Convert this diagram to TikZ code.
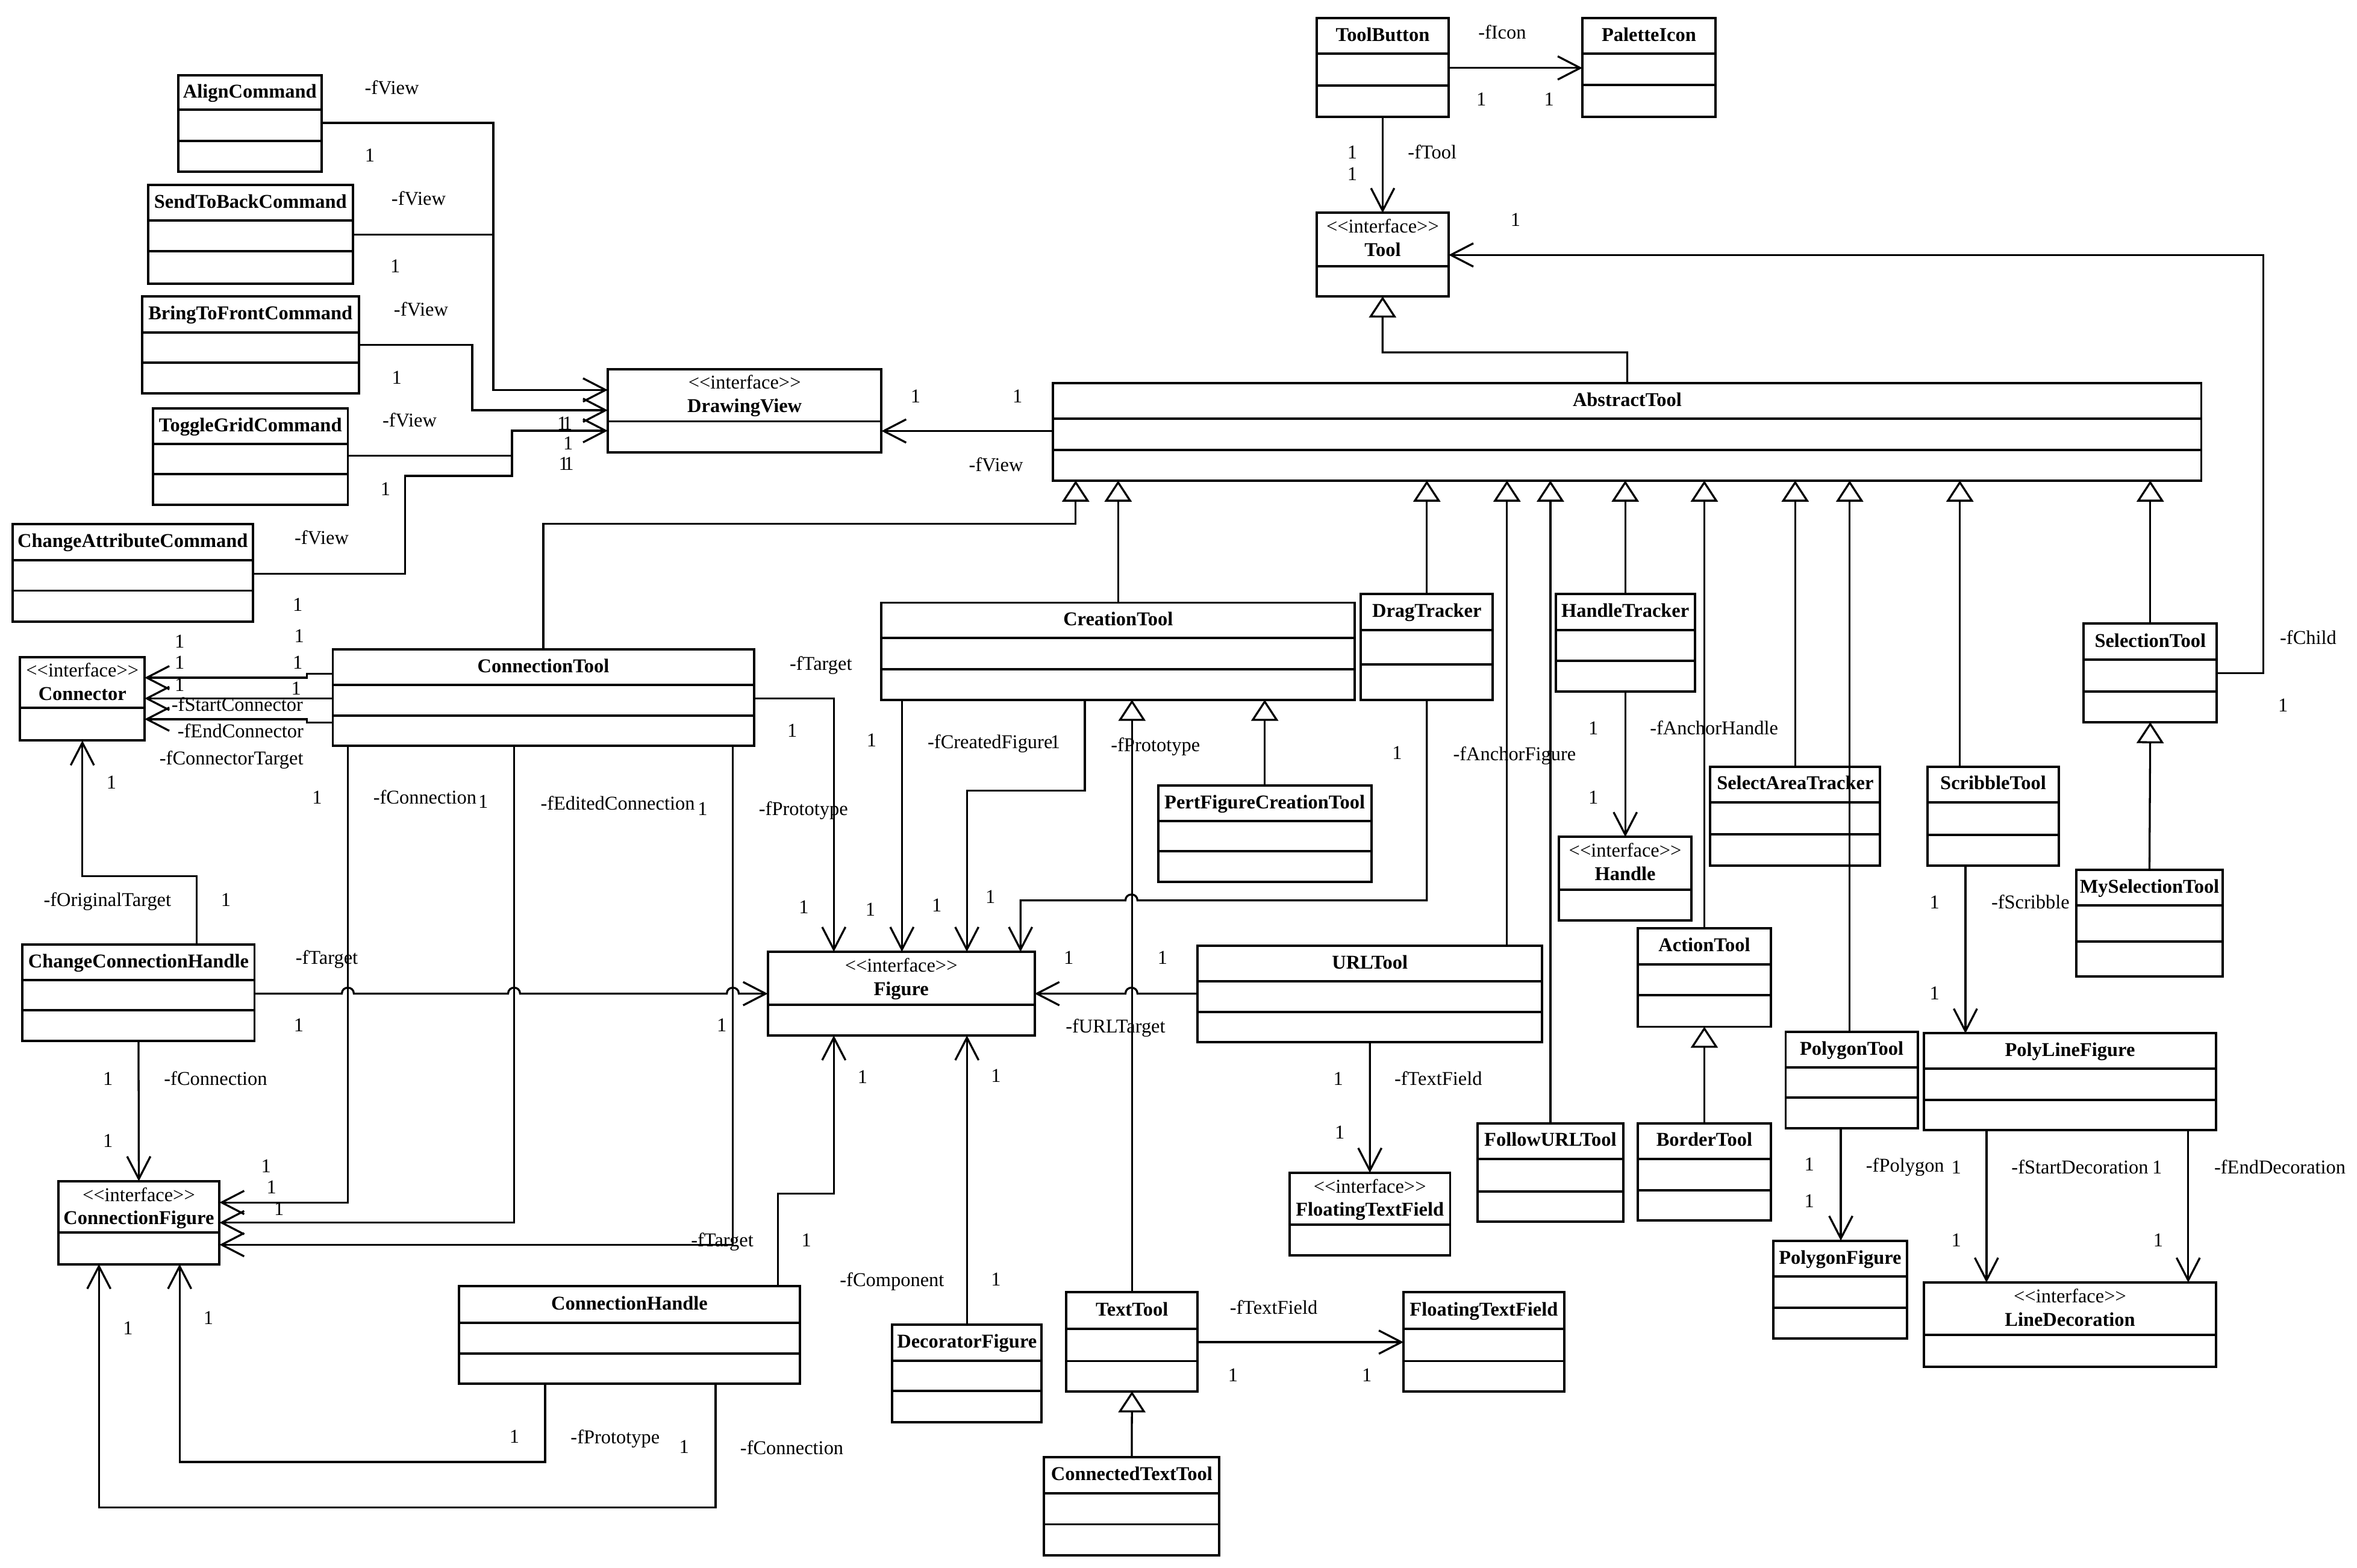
\documentclass[tikz,border=0pt]{standalone}
\usepackage{fontspec}
\setmainfont{Liberation Serif}
\usetikzlibrary{arrows.meta}
\newcommand{\tam}{\fontsize{7.4}{8.8}\selectfont}
% caja de clase: nombre, x1, y1, x2, y2, division 1, division 2, texto
\newcommand{\umlclase}[8]{%
  \node[caja,minimum width={(#4-#2)*0.2mm},minimum height={(#5-#3)*0.2mm}] (#1) at ({(#2+#4)/2},{(#3+#5)/2}) {};
  \draw[borde] (#2,#6) -- (#4,#6) (#2,#7) -- (#4,#7);
  \node[nombre] (#1-n) at ({(#2+#4)/2},{(#3+#6)/2}) {#8};}
% caja de interfaz: nombre, x1, y1, x2, y2, division, texto
\newcommand{\umlinterfaz}[7]{%
  \node[caja,minimum width={(#4-#2)*0.2mm},minimum height={(#5-#3)*0.2mm}] (#1) at ({(#2+#4)/2},{(#3+#5)/2}) {};
  \draw[borde] (#2,#6) -- (#4,#6);
  \node[et] (#1-s) at ({(#2+#4)/2},{#3+9.8}) {<{}<interface>{}>};
  \node[nombre] (#1-n) at ({(#2+#4)/2},{#3+25.4}) {#7};}
\begin{document}
\begin{tikzpicture}[x=0.2mm,y=-0.2mm,line width=0.75pt,line join=miter,font=\tam,
  caja/.style={draw,rectangle,line width=0.9pt,inner sep=0pt,outer sep=0pt},
  borde/.style={line width=0.9pt},
  et/.style={inner sep=0pt,text height=0.68em,text depth=0.28em},
  nombre/.style={et,font=\tam\bfseries},
  rol/.style={et,anchor=west},
  asoc/.style={-{Straight Barb[length=3mm,width=3.1mm]}},
  hereda/.style={-{Triangle[open,fill=white,length=2.8mm,width=3.6mm]}}]
  \useasboundingbox (0,0) rectangle (1568,1043);
  % comandos
  \umlclase{align}{118.5}{50.1}{214}{114.2}{72.8}{93.7}{AlignCommand}
  \umlclase{sendback}{98.5}{122.9}{234.7}{188.6}{146.7}{167}{SendToBackCommand}
  \umlclase{bringfront}{94.5}{197.2}{238.7}{261.6}{221}{241.3}{BringToFrontCommand}
  \umlclase{togglegrid}{101.8}{271.6}{231.4}{335.7}{295.4}{315.2}{ToggleGridCommand}
  \umlclase{changeattr}{8.3}{348.5}{168.3}{413.6}{372.6}{392.9}{ChangeAttributeCommand}
  \umlinterfaz{dview}{404.3}{245.5}{586.4}{300.8}{280.3}{DrawingView}
  % conexiones
  \umlinterfaz{connector}{13.4}{437}{96.2}{492.6}{470.8}{Connector}
  \umlclase{ctool}{221.4}{432.1}{501.5}{496.2}{455.7}{476.2}{ConnectionTool}
  \umlclase{cchandle}{15}{628.2}{169.3}{692.6}{652}{672.1}{ChangeConnectionHandle}
  \umlinterfaz{cfigure}{38.7}{785.7}{146}{840.9}{820}{ConnectionFigure}
  \umlclase{chandle}{305.5}{855.6}{532}{920.6}{879.9}{900.3}{ConnectionHandle}
  % figuras
  \umlinterfaz{figure}{510.8}{633.1}{688.3}{688.8}{668.3}{Figure}
  \umlclase{decorator}{593.5}{881.2}{693}{946.2}{905.2}{925.3}{DecoratorFigure}
  % herramientas
  \umlclase{toolbtn}{875.9}{12.2}{963.7}{77.7}{35.8}{56.8}{ToolButton}
  \umlclase{palette}{1052.7}{12.2}{1141.2}{77.7}{35.8}{56.4}{PaletteIcon}
  \umlinterfaz{tool}{875.9}{141.6}{963.7}{197.2}{177}{Tool}
  \umlclase{atool}{700.6}{254.9}{1464.4}{319.7}{278.5}{299.2}{AbstractTool}
  \umlclase{crtool}{586.4}{400.9}{901.3}{465.5}{424.5}{445.2}{CreationTool}
  \umlclase{pert}{770.4}{522.5}{912.3}{586.8}{546}{566.3}{PertFigureCreationTool}
  \umlclase{drag}{905.3}{395.1}{993.1}{465.7}{419.2}{442.1}{DragTracker}
  \umlclase{urltool}{796.8}{629.1}{1025.8}{693.2}{652.7}{673.2}{URLTool}
  \umlinterfaz{ftfiface}{857.9}{780.1}{964.7}{835.1}{814.6}{FloatingTextField}
  \umlclase{texttool}{709.3}{859.6}{796.8}{925.5}{883.9}{905.4}{TextTool}
  \umlclase{ftf}{933.7}{859.6}{1040.5}{925.5}{883.9}{905.4}{FloatingTextField}
  \umlclase{cttool}{694.6}{969.3}{811.2}{1034.6}{993.4}{1014}{ConnectedTextTool}
  \umlclase{htracker}{1034.9}{395.1}{1127.5}{459.9}{419.2}{439.7}{HandleTracker}
  \umlinterfaz{handle}{1037.2}{556.7}{1125.1}{612.4}{591.9}{Handle}
  \umlclase{followurl}{982.8}{747.2}{1080}{812.8}{770.8}{792.6}{FollowURLTool}
  \umlclase{actiontool}{1089.7}{617.5}{1177.9}{683}{641.6}{661.8}{ActionTool}
  \umlclase{bordertool}{1089.7}{747.2}{1177.9}{812}{770.8}{791.9}{BorderTool}
  \umlclase{satracker}{1137.8}{510}{1250.7}{575.7}{533.6}{555}{SelectAreaTracker}
  \umlclase{polytool}{1187.9}{686.3}{1275.7}{750.5}{710}{730}{PolygonTool}
  \umlclase{polyfig}{1179.6}{825.3}{1268.7}{890.5}{849.1}{869.8}{PolygonFigure}
  \umlclase{scribble}{1282.4}{510}{1369.5}{575.7}{533.6}{555.4}{ScribbleTool}
  \umlclase{polyline}{1279.9}{687.4}{1474.2}{751.8}{710.7}{731.8}{PolyLineFigure}
  \umlinterfaz{linedeco}{1279.9}{853.1}{1474.2}{909.2}{888.1}{LineDecoration}
  \umlclase{seltool}{1386.2}{414.9}{1474.7}{480.4}{438.8}{459.9}{SelectionTool}
  \umlclase{myseltool}{1381.2}{578.6}{1478.7}{649.6}{602.4}{626.4}{MySelectionTool}

  % herencia
  \draw[hereda] (atool.north) |- (919.7,234.4) -- (tool.south);
  \draw[hereda] (ctool.north) |- (715.6,348.4) -- (atool.south -| 715.6,0);
  \draw[hereda] (crtool.north) -- (atool.south -| crtool.north);
  \draw[hereda] (drag.north) -- (atool.south -| drag.north);
  \draw[hereda] (urltool.north -| 1002.5,0) -- (atool.south -| 1002.5,0);
  \draw[hereda] (followurl.north) -- (atool.south -| followurl.north);
  \draw[hereda] (htracker.north) -- (atool.south -| htracker.north);
  \draw[hereda] (actiontool.north) -- (atool.south -| actiontool.north);
  \draw[hereda] (satracker.north) -- (atool.south -| satracker.north);
  \draw[hereda] (polytool.north -| 1230.5,0) -- (atool.south -| 1230.5,0);
  \draw[hereda] (scribble.north -| 1303.8,0) -- (atool.south -| 1303.8,0);
  \draw[hereda] (seltool.north) -- (atool.south -| seltool.north);
  \draw[hereda] (myseltool.north) -- (seltool.south);
  \draw[hereda] (texttool.north) -- (crtool.south -| texttool.north);
  \draw[hereda] (pert.north) -- (crtool.south -| pert.north);
  \draw[hereda] (cttool.north) -- (texttool.south);
  \draw[hereda] (bordertool.north) -- (actiontool.south);

  % asociaciones hacia DrawingView
  \draw[asoc] (align.east |- 0,81.7) -| (328.2,259.4) -- (dview.west |- 0,259.4);
  \draw (sendback.east |- 0,156) -- (328.2,156);
  \draw[asoc] (bringfront.east |- 0,229.5) -| (314.2,272.9) -- (dview.west |- 0,272.9);
  \draw[asoc] (togglegrid.east |- 0,303) -| (340.6,286.5) -- (dview.west |- 0,286.5);
  \draw (changeattr.east |- 0,381.8) -| (269.4,316.6) -| (340.6,303);
  \draw[asoc] (atool.west |- 0,286.7) -- (dview.east |- 0,286.7);
  % herramientas arriba
  \draw[asoc] (toolbtn.south) -- (tool.north);
  \draw[asoc] (toolbtn.east |- 0,45.2) -- (palette.west |- 0,45.2);
  \draw[asoc] (seltool.east |- 0,447.7) -| (1505.8,169.6) -- (tool.east |- 0,169.6);
  % ConnectionTool
  \draw[asoc] (ctool.west |- 0,448.1) -- (204.3,448.1) |- (connector.east |- 0,450.8);
  \draw[asoc] (ctool.west |- 0,464.6) -- (connector.east |- 0,464.6);
  \draw[asoc] (ctool.west |- 0,480.6) -- (204.3,480.6) |- (connector.east |- 0,478.4);
  \draw[asoc] (ctool.south -| 231.4,0) |- (cfigure.east |- 0,799.9);
  \draw[asoc] (ctool.south -| 342,0) |- (cfigure.east |- 0,813.3);
  \draw[asoc] (ctool.south -| 487.5,0) |- (cfigure.east |- 0,828);
  \draw[asoc] (ctool.east |- 0,464.6) -| (figure.north -| 554.7,0);
  % ChangeConnectionHandle
  \draw[asoc] (cchandle.north -| 130.9,0) |- (connector.south |- 0,582.8) -- (connector.south);
  \draw[asoc] (cchandle.south) -- (cfigure.north);
  \draw[asoc] (cchandle.east |- 0,661) -- (227.4,661) .. controls (227.4,655.7) and (235.4,655.7) .. (235.4,661)
    -- (338,661) .. controls (338,655.7) and (346,655.7) .. (346,661)
    -- (483.5,661) .. controls (483.5,655.7) and (491.5,655.7) .. (491.5,661) -- (figure.west |- 0,661);
  % ConnectionHandle
  \draw[asoc] (chandle.north -| 517.5,0) |- (554.7,794.1) -- (figure.south -| 554.7,0);
  \draw[asoc] (chandle.south -| 362.6,0) |- (119.5,972.5) -- (cfigure.south -| 119.5,0);
  \draw[asoc] (chandle.south -| 476.1,0) |- (65.8,1002.7) -- (cfigure.south -| 65.8,0);
  \draw[asoc] (decorator.north) -- (figure.south -| decorator.north);
  % CreationTool, DragTracker, URLTool
  \draw[asoc] (crtool.south -| 600,0) -- (figure.north -| 600,0);
  \draw[asoc] (crtool.south -| 721.7,0) |- (643.2,526) -- (figure.north -| 643.2,0);
  \draw[asoc] (drag.south) |- (756.7,599) .. controls (756.7,593.7) and (748.7,593.7) .. (748.7,599)
    -| (figure.north -| 678.9,0);
  \draw[asoc] (urltool.west |- 0,661) -- (756.7,661) .. controls (756.7,655.7) and (748.7,655.7) .. (748.7,661)
    -- (figure.east |- 0,661);
  \draw[asoc] (urltool.south) -- (ftfiface.north);
  \draw[asoc] (texttool.east |- 0,892.8) -- (ftf.west |- 0,892.8);
  \draw[asoc] (htracker.south) -- (handle.north -| htracker.south);
  \draw[asoc] (polytool.south -| 1224.6,0) -- (polyfig.north -| 1224.6,0);
  \draw[asoc] (scribble.south -| 1307.5,0) -- (polyline.north -| 1307.5,0);
  \draw[asoc] (polyline.south -| 1321.5,0) -- (linedeco.north -| 1321.5,0);
  \draw[asoc] (polyline.south -| 1455.7,0) -- (linedeco.north -| 1455.7,0);

  % roles
  \foreach \x/\y/\t [count=\i] in {242/59/-fView, 259.8/132.9/-fView, 261.4/206.6/-fView,
      253.8/280.5/-fView, 195.3/358.6/-fView, 113.5/469.5/-fStartConnector,
      117.5/487.3/-fEndConnector, 105.5/505.1/-fConnectorTarget, 247.7/531.1/-fConnection,
      359/535.2/-fEditedConnection, 504.2/539/-fPrototype, 28.4/599.5/-fOriginalTarget,
      196/638/-fTarget, 524.7/442.1/-fTarget, 616.5/494.4/-fCreatedFigure,
      738.4/496.2/-fPrototype, 966.1/502.2/-fAnchorFigure, 708.3/683.6/-fURLTarget,
      1097/485/-fAnchorHandle, 1516.1/425/-fChild, 1324.1/600.8/-fScribble,
      108.5/718.4/-fConnection, 459.1/825.7/-fTarget, 379/956.7/-fPrototype,
      491.8/963.8/-fConnection, 558.1/852/-fComponent, 927/718.4/-fTextField,
      817.5/870.5/-fTextField, 1240.7/775.9/-fPolygon, 1337.5/777.4/-fStartDecoration,
      1472.4/777.4/-fEndDecoration, 982.8/22.3/-fIcon, 936/102/-fTool, 643.9/309.9/-fView}
    \node[rol] (r\i) at (\x,\y) {\t};
  % multiplicidades
  \foreach \x/\y [count=\i] in {246/104, 263/178, 264/252, 256.4/326, 198/403, 199/423.8,
      198/441.4, 197/458.8, 119.5/427.6, 119.5/441.4, 119.5/456.1, 74.1/521.1, 211/531.1,
      321.5/534, 467.4/539, 150.3/599.5, 198.7/682.5, 480.1/682.5, 527/486.6, 534.7/604,
      579.8/493.3, 579/605.7, 702/494.4, 623.2/603, 658.9/597.3, 929.4/501.5, 711/638,
      773.4/638, 1060/485, 1060/531.1, 1518.8/470, 1287/600.8, 1287/661.4, 71.8/718.4,
      71.8/759.6, 177/776.3, 180.6/790.4, 185.6/804.8, 138.6/877.6, 85.1/884.3, 342.2/956.2,
      455.1/963.3, 573.8/717.3, 662.6/716.2, 536.4/825.7, 662.6/851.6, 890.3/718.4,
      891.3/754, 820.2/915.5, 909.3/915.5, 1203.6/775.2, 1203.6/799.7, 1301.4/777.4,
      1435/777.4, 1301.4/825.9, 1435.7/825.9, 985.4/66.8, 1030.5/66.8, 899.6/102,
      899.6/116.4, 1008.2/146.9, 609.1/264.5, 676.9/264.5, 374/282.3, 377.5/282.3,
      378/295.6, 375/309.4, 378.5/309.4}
    \node[et] (m\i) at (\x,\y) {1};
\end{tikzpicture}
\end{document}
